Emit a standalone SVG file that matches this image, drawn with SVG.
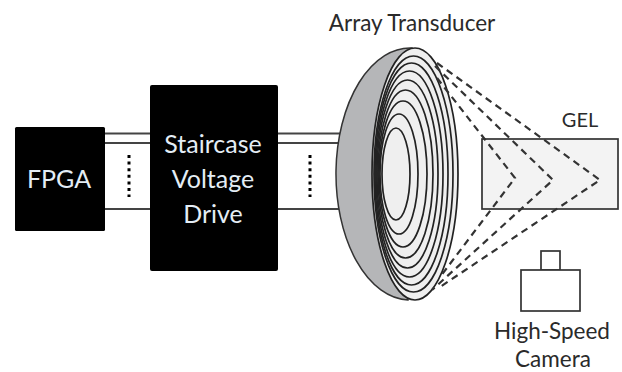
<svg xmlns="http://www.w3.org/2000/svg" width="622" height="372" viewBox="0 0 622 372">
<style>
text{font-family:"Lato","Open Sans","Liberation Sans",sans-serif;text-anchor:middle}
.w{fill:#e4edf5;font-size:25px}.k{fill:#2a2a2a;font-size:22.500px}
.l{stroke:#444;stroke-width:1.8;fill:none}
.r{stroke:#222;stroke-width:1.7;fill:none}
.d{stroke:#333;stroke-width:2.2;fill:none;stroke-dasharray:7 5}
.o{stroke:#000;stroke-width:3;stroke-dasharray:3 3.6;fill:none}
</style>
<rect width="622" height="372" fill="#fff"/>
<g id="connectors">
<path class="l" d="M105 133.500H150M105 143H150M105 209H150M278 133.500H342M278 143H342M278 209H342"/>
<path class="o" d="M129 155V197M310 155V197"/>
</g>
<g id="fpga"><rect x="15" y="127" width="90" height="104" rx="1.500" fill="#000"/><text class="w" x="59" y="188">FPGA</text></g>
<g id="drive"><rect x="150" y="85" width="128" height="186" rx="2" fill="#000"/><text class="w" x="213" y="153">Staircase</text><text class="w" x="213" y="188">Voltage</text><text class="w" x="213" y="223">Drive</text></g>
<g id="transducer">
<path d="M412 48A74 126 0 0 0 408 300Z" fill="#b5b6b8" stroke="#333" stroke-width="1.500"/>
<ellipse cx="415" cy="174" rx="43" ry="126" fill="#efefef" stroke="#222" stroke-width="1.700"/>
<g class="r">
<ellipse cx="396" cy="174" rx="14" ry="46"/>
<ellipse cx="399" cy="174" rx="19" ry="60"/>
<ellipse cx="403" cy="174" rx="24" ry="73"/>
<ellipse cx="405.500" cy="174" rx="27.500" ry="84"/>
<ellipse cx="407.500" cy="174" rx="30.500" ry="94"/>
<ellipse cx="409.500" cy="174" rx="33.500" ry="103"/>
<ellipse cx="411.500" cy="174" rx="36.500" ry="111"/>
<ellipse cx="413.500" cy="174" rx="39.500" ry="118"/>
</g>
</g>
<g id="gel">
<rect x="482" y="139" width="136" height="70" fill="#f3f3f3" stroke="#333" stroke-width="1.700"/>
<text class="k" x="580" y="127" style="font-size:20px">GEL</text>
</g>
<g id="beams">
<path class="d" d="M437 78L515 178L440 277"/>
<path class="d" d="M435 66L553 180L432 290"/>
<path class="d" d="M437 63L600 180L440 287"/>
</g>
<g id="camera">
<rect x="541" y="251" width="19" height="19" fill="#fff" stroke="#333" stroke-width="1.700"/>
<rect x="521" y="270" width="59" height="41" fill="#fff" stroke="#333" stroke-width="1.700"/>
<text class="k" x="552" y="339">High-Speed</text><text class="k" x="553" y="367">Camera</text>
</g>
<text class="k" x="412" y="31" id="array-label">Array Transducer</text>
</svg>
